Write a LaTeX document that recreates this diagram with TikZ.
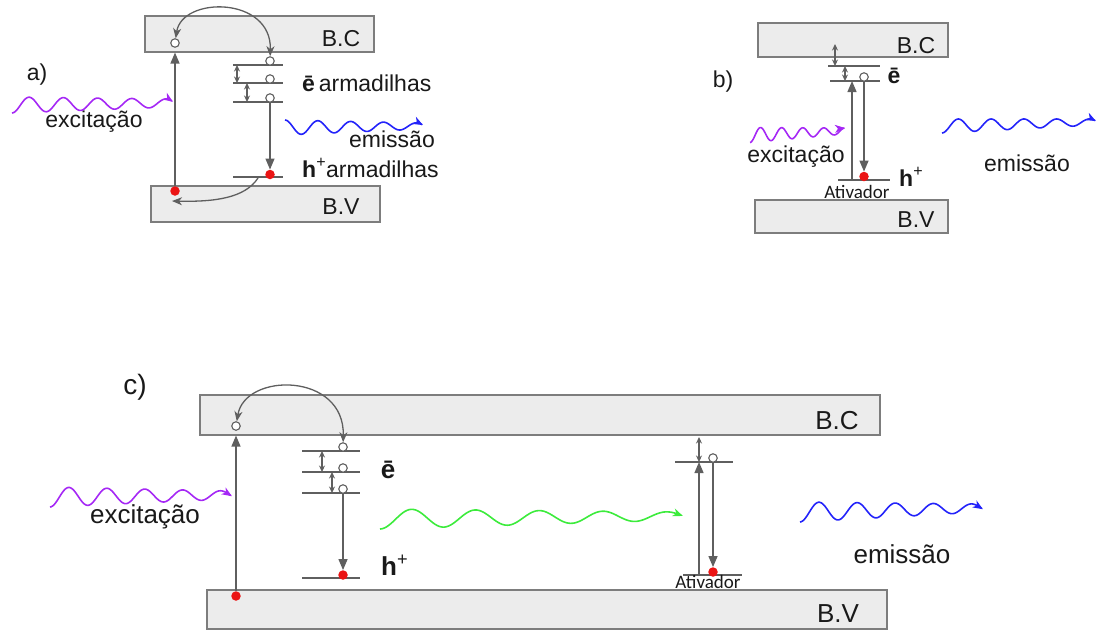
\documentclass[tikz,border=0pt]{standalone}
\usepackage{fontspec}
\setmainfont{Liberation Sans}
\newfontfamily\calib{Carlito}
\usetikzlibrary{arrows.meta}
\definecolor{bandfill}{RGB}{236,236,236}
\definecolor{bandline}{RGB}{125,125,125}
\definecolor{arr}{RGB}{95,95,95}
\definecolor{exc}{RGB}{165,40,245}
\definecolor{emi}{RGB}{35,35,250}
\definecolor{grn}{RGB}{60,235,60}
\definecolor{dotred}{RGB}{235,20,20}
\definecolor{txt}{RGB}{25,25,25}
\tikzset{
 band/.style={draw=bandline, fill=bandfill, line width=1.1pt, inner sep=0pt},
 lvl/.style={draw=arr, line width=1.1pt},
 trans/.style={draw=arr, line width=1.3pt, -{Triangle[length=11pt,width=9pt]}},
 hop/.style={draw=arr, line width=1.3pt, {Stealth[length=10pt,width=8pt,inset=3pt]}-{Stealth[length=10pt,width=8pt,inset=3pt]}},
 hopone/.style={draw=arr, line width=1.3pt, -{Stealth[length=10pt,width=8pt,inset=3pt]}},
 hopsmall/.style={draw=arr, line width=1.1pt, {Stealth[length=6.5pt,width=6pt]}-{Stealth[length=6.5pt,width=6pt]}},
 hole/.style={circle, draw=arr, fill=white, line width=1.1pt, inner sep=0pt, minimum size=8.5pt},
 elec/.style={circle, fill=dotred, inner sep=0pt, minimum size=9.5pt},
 wave/.style={line width=1.6pt, -{Stealth[length=10pt,width=8pt,inset=3pt]}},
 lbl/.style={inner sep=0pt, text=txt},
 fa/.style={font=\fontsize{23}{26}\selectfont},
 fc/.style={font=\fontsize{26}{30}\selectfont},
 fact/.style={font=\calib\fontsize{19}{22}\selectfont},
}
\newcommand{\wavy}[8]{%
 \draw[wave,#1] plot[domain=0:1,samples=160,variable=\t]
 ({#2+(#4-#2)*\t},{#3+(#5-#3)*\t+((#7)+((#8)-(#7))*\t)*cos(360*#6*\t)});}
\begin{document}
\begin{tikzpicture}[x=1pt,y=-1pt]
\useasboundingbox (0,0) rectangle (1099,630);

% ================= panel a =================
\node[band, minimum width=229pt, minimum height=36pt] (BCa) at (259.5,34) {};
\node[band, minimum width=229pt, minimum height=36pt] (BVa) at (265.5,204) {};
\node[lbl,fa] (bcA) at (341,39) {B.C};
\node[lbl,fa] (bvA) at (341,207) {B.V};
\node[lbl,fa] (lA) at (37,75) {a)};

\coordinate (La1) at (233,65);  \coordinate (La1e) at (283,65);
\coordinate (La2) at (233,83);  \coordinate (La2e) at (283,83);
\coordinate (La3) at (233,102); \coordinate (La3e) at (283,102);
\coordinate (Lah) at (233,177); \coordinate (Lahe) at (283,177);
\draw[lvl] (La1) -- (La1e);
\draw[lvl] (La2) -- (La2e);
\draw[lvl] (La3) -- (La3e);
\draw[lvl] (Lah) -- (Lahe);
\draw[hopsmall] ([xshift=4pt]La1) -- ([xshift=4pt]La2);
\draw[hopsmall] ([xshift=14pt]La2) -- ([xshift=14pt]La3);

\node[hole] (oa0) at (175,43) {};
\node[elec] (ea0) at (175,191) {};
\node[hole] (ta1) at (270,61) {};
\node[hole] (ta2) at (270,79) {};
\node[hole] (ta3) at (270,98) {};
\node[elec] (ha) at (270,174.5) {};
\draw[trans] (ea0) -- (ea0 |- BCa.south);
\draw[hop] (oa0) .. controls (182,-4) and (272,-4) .. (ta1);
\draw[trans] (ta3) -- (ha);
\coordinate (ca1) at (258,178);
\coordinate (ca2) at (172,201);
\draw[hopone] (ca1) .. controls (245,198) and (215,202) .. (ca2);

\node[lbl,fa,anchor=base west] (eA) at (302,91) {\textbf{ē}\,armadilhas};
\node[lbl,fa,anchor=base west] (hA) at (302,177) {\textbf{h}\textsuperscript{+}armadilhas};
\node[lbl,fa,anchor=base] (emA) at (392,147) {emissão};
\node[lbl,fa,anchor=base] (exA) at (94,127) {excitação};
\wavy{exc}{12}{105}{173}{103}{4.7}{8}{4}
\wavy{emi}{285}{127.5}{423}{126}{4.2}{-7.5}{-3}

% ================= panel b =================
\node[band, minimum width=190pt, minimum height=34pt] (BCb) at (853,40) {};
\node[band, minimum width=193pt, minimum height=33pt] (BVb) at (851.5,216.5) {};
\node[lbl,fa] (bcB) at (916,46) {B.C};
\node[lbl,fa] (bvB) at (916,220) {B.V};
\node[lbl,fa] (lB) at (723,82) {b)};

\coordinate (Lb1) at (828,66);  \coordinate (Lb1e) at (880,66);
\coordinate (Lb2) at (830,81);  \coordinate (Lb2e) at (880,81);
\coordinate (Lbh) at (838,180); \coordinate (Lbhe) at (890,180);
\draw[lvl] (Lb1) -- (Lb1e);
\draw[lvl] (Lb2) -- (Lb2e);
\draw[lvl] (Lbh) -- (Lbhe);
\draw[hopsmall] ([xshift=7pt]Lb1) -- ([xshift=7pt,yshift=22pt]Lb1);
\draw[hopsmall] ([xshift=17pt]Lb1) -- ([xshift=15pt]Lb2);

\node[hole] (ob) at (864,77) {};
\node[elec] (eb) at (864,176.5) {};
\coordinate (ub) at (852,180);
\draw[trans] (ub) -- (ub |- Lb2);
\draw[trans] (ob) -- (eb);

\node[lbl,fa] (eB) at (894,76) {\textbf{ē}};
\node[lbl,fa,anchor=base west] (hB) at (899,186) {\textbf{h}\textsuperscript{+}};
\node[lbl,fact] (aB) at (857,192) {Ativador};
\node[lbl,fa,anchor=base] (exB) at (796,162) {excitação};
\node[lbl,fa,anchor=base] (emB) at (1027,171) {emissão};
\wavy{exc}{750}{135}{845}{131}{4.5}{7.5}{3}
\wavy{emi}{942}{126}{1096}{122}{4.7}{7}{3}

% ================= panel c =================
\node[band, minimum width=680pt, minimum height=40pt] (BCc) at (540,415) {};
\node[band, minimum width=680pt, minimum height=39pt] (BVc) at (547,609.5) {};
\node[lbl,fc] (bcC) at (837,421) {B.C};
\node[lbl,fc] (bvC) at (838,614) {B.V};
\node[lbl,font=\fontsize{28}{32}\selectfont] (lC) at (135,387) {c)};

\coordinate (Lc1) at (302,451); \coordinate (Lc1e) at (360,451);
\coordinate (Lc2) at (302,472); \coordinate (Lc2e) at (360,472);
\coordinate (Lc3) at (302,493); \coordinate (Lc3e) at (360,493);
\coordinate (Lch) at (302,578); \coordinate (Lche) at (360,578);
\draw[lvl] (Lc1) -- (Lc1e);
\draw[lvl] (Lc2) -- (Lc2e);
\draw[lvl] (Lc3) -- (Lc3e);
\draw[lvl] (Lch) -- (Lche);
\draw[hopsmall] ([xshift=20pt]Lc1) -- ([xshift=20pt]Lc2);
\draw[hopsmall] ([xshift=30pt]Lc2) -- ([xshift=30pt]Lc3);

\node[hole] (oc0) at (236,426) {};
\node[elec] (ec0) at (236,596) {};
\node[hole] (tc1) at (343,447) {};
\node[hole] (tc2) at (343,468) {};
\node[hole] (tc3) at (343,489) {};
\node[elec] (hc) at (343,575) {};
\draw[trans] (ec0) -- (ec0 |- BCc.south);
\draw[hop] (oc0) .. controls (245,372) and (345,372) .. (tc1);
\draw[trans] (tc3) -- (hc);

\coordinate (Lac) at (675,462); \coordinate (Lace) at (733,462);
\coordinate (Lat) at (683,575); \coordinate (Late) at (742,575);
\draw[lvl] (Lac) -- (Lace);
\draw[lvl] (Lat) -- (Late);
\draw[hopsmall] ([xshift=24pt]Lac) -- ([xshift=24pt,yshift=25pt]Lac);
\node[hole] (oc) at (713,458) {};
\node[elec] (ecA) at (713,572) {};
\coordinate (uc) at (699,576);
\draw[trans] (uc) -- (uc |- Lac);
\draw[trans] (oc) -- (ecA);

\node[lbl,fc] (eC) at (388,470) {\textbf{ē}};
\node[lbl,fc,anchor=base west] (hC) at (381,575) {\textbf{h}\textsuperscript{+}};
\node[lbl,fact] (aC) at (708,582) {Ativador};
\node[lbl,fc,anchor=base] (exC) at (145,523) {excitação};
\node[lbl,fc,anchor=base] (emC) at (902,563) {emissão};
\wavy{exc}{50}{497}{232}{495}{4.8}{10}{4}
\wavy{grn}{380}{519}{683}{516}{4.75}{10}{4}
\wavy{emi}{800}{512}{983}{508}{4.8}{10}{4}
\end{tikzpicture}
\end{document}
